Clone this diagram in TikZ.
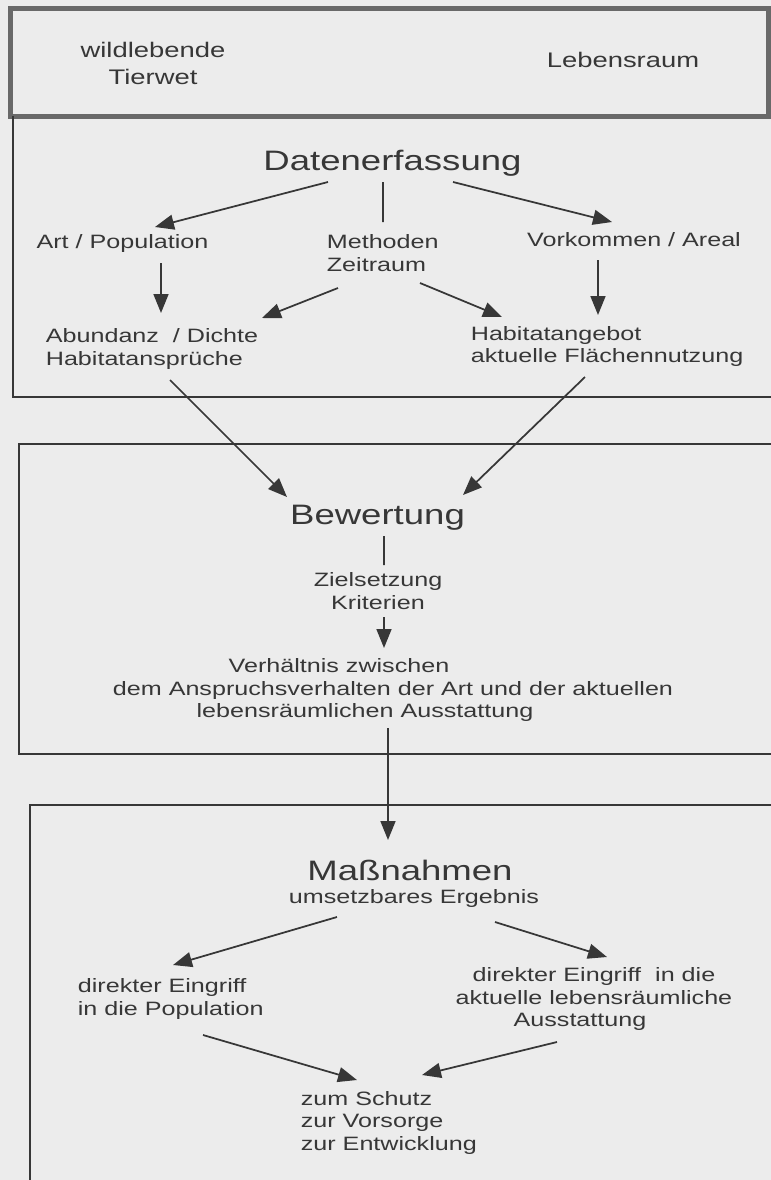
\documentclass[tikz,border=0pt]{standalone}
\usepackage{fontspec}
\setmainfont{Liberation Sans}[FakeStretch=1.3]
\usetikzlibrary{arrows.meta}
\definecolor{ink}{RGB}{55,55,55}
\definecolor{frame}{RGB}{105,105,105}
\definecolor{paper}{RGB}{236,236,236}
\tikzset{
  every picture/.style={color=ink, line width=0.35mm},
  lbl/.style={font=\fontsize{11pt}{12.8pt}\selectfont, text=ink, inner sep=0pt},
  toplbl/.style={font=\fontsize{12pt}{15.4pt}\selectfont, text=ink, inner sep=0pt, align=center},
  bigtitle/.style={font=\fontsize{16pt}{19pt}\selectfont, text=ink, inner sep=0pt},
  flow/.style={-{Triangle[length=3.8mm,width=3mm]}, line width=0.35mm},
  tie/.style={line width=0.35mm},
  panel/.style={draw=ink, line width=0.35mm},
}

\begin{document}
\begin{tikzpicture}
  \useasboundingbox (0,0) rectangle (154.2mm,-236mm);
  \fill[paper] (0,0) rectangle (154.2mm,-236mm);
  % frames
  \draw[draw=frame, line width=1mm] (2mm,-1.6mm) rectangle (153.6mm,-23.2mm);
  \draw[panel] (2.6mm,-23.2mm) -- (2.6mm,-79.4mm) -- (154.2mm,-79.4mm);
  \draw[panel] (154.2mm,-88.8mm) -| (3.8mm,-150.8mm) -- (154.2mm,-150.8mm);
  \draw[panel] (154.2mm,-161mm) -| (6mm,-236mm);

  % header
  \node[toplbl] (wild) at (30.6mm,-12.7mm) {wildlebende\\Tierwet};
  \node[toplbl] (raum) at (124.6mm,-12mm) {Lebensraum};

  % data collection
  \node[bigtitle] (daten) at (78.5mm,-32.6mm) {Datenerfassung};
  \node[lbl] (art) at (24.5mm,-48.6mm) {Art / Population};
  \node[lbl, anchor=west, align=left] (meth) at (65.2mm,-50.6mm) {Methoden\\Zeitraum};
  \node[lbl] (vork) at (126.8mm,-48mm) {Vorkommen / Areal};
  \node[lbl, anchor=west, align=left] (abund) at (9mm,-69.8mm) {Abundanz~~/ Dichte\\Habitatansprüche};
  \node[lbl, anchor=west, align=left] (habi) at (94mm,-69.3mm) {Habitatangebot\\aktuelle Flächennutzung};
  \draw[flow] ([shift={(-12.9mm,-3.8mm)}]daten.center) -- ([shift={(6.5mm,3.2mm)}]art.center);
  \draw[flow] ([shift={(12.1mm,-3.8mm)}]daten.center) -- ([shift={(-4.4mm,3.6mm)}]vork.center);
  \draw[tie] ([shift={(-1.9mm,-3.8mm)}]daten.center) -- ([shift={(11.4mm,6.2mm)}]meth.west);
  \draw[flow] ([shift={(7.7mm,-4mm)}]art.center) -- ([shift={(23.2mm,7.2mm)}]abund.west);
  \draw[flow] ([shift={(2.4mm,-7mm)}]meth.west) -- ([shift={(43.4mm,6.2mm)}]abund.west);
  \draw[flow] ([shift={(18.8mm,-6mm)}]meth.west) -- ([shift={(6.4mm,5.9mm)}]habi.west);
  \draw[flow] ([shift={(-7.2mm,-4mm)}]vork.center) -- ([shift={(25.6mm,6.3mm)}]habi.west);

  % evaluation
  \node[bigtitle] (bew) at (75.5mm,-103.6mm) {Bewertung};
  \node[lbl, align=center] (ziel) at (75.6mm,-118.2mm) {Zielsetzung\\Kriterien};
  \node[lbl, align=center] (verh) at (78.6mm,-138mm) {Verhältnis zwischen\rule{21.6mm}{0pt}\\dem Anspruchsverhalten der Art und der aktuellen\\lebensräumlichen Ausstattung\rule{11.2mm}{0pt}};
  \draw[flow] ([shift={(25mm,-6.2mm)}]abund.west) -- ([shift={(-18.1mm,4.2mm)}]bew.center);
  \draw[flow] ([shift={(23mm,-6.1mm)}]habi.west) -- ([shift={(17.1mm,4.6mm)}]bew.center);
  \draw[tie] ([shift={(1.3mm,-3.6mm)}]bew.center) -- ([shift={(1.2mm,5.2mm)}]ziel.center);
  \draw[flow] ([shift={(1.2mm,-5.2mm)}]ziel.center) -- ([shift={(-1.8mm,8.4mm)}]verh.center);

  % measures
  \node[bigtitle] (mass) at (82mm,-174mm) {Maßnahmen};
  \node[lbl] (umsetz) at (82.8mm,-179.6mm) {umsetzbares Ergebnis};
  \node[lbl, anchor=west, align=left] (popu) at (15.4mm,-199.8mm) {direkter Eingriff\\in die Population};
  \node[lbl, align=center] (aust) at (118.8mm,-199.8mm) {direkter Eingriff~~in die\\aktuelle lebensräumliche\\Ausstattung\rule{5.6mm}{0pt}};
  \node[lbl, anchor=west, align=left] (schutz) at (60mm,-224.5mm) {zum Schutz\\zur Vorsorge\\zur Entwicklung};
  \draw[flow] ([shift={(-1mm,-7.6mm)}]verh.center) -- ([shift={(-4.4mm,6mm)}]mass.center);
  \draw[flow] ([shift={(-15.4mm,-3.8mm)}]umsetz.center) -- ([shift={(19.2mm,6.8mm)}]popu.west);
  \draw[flow] ([shift={(16.2mm,-4.8mm)}]umsetz.center) -- ([shift={(2.6mm,8.4mm)}]aust.center);
  \draw[flow] ([shift={(25.2mm,-7.2mm)}]popu.west) -- ([shift={(11.4mm,8.5mm)}]schutz.west);
  \draw[flow] ([shift={(-7.4mm,-8.6mm)}]aust.center) -- ([shift={(24.4mm,9.5mm)}]schutz.west);
\end{tikzpicture}
\end{document}
